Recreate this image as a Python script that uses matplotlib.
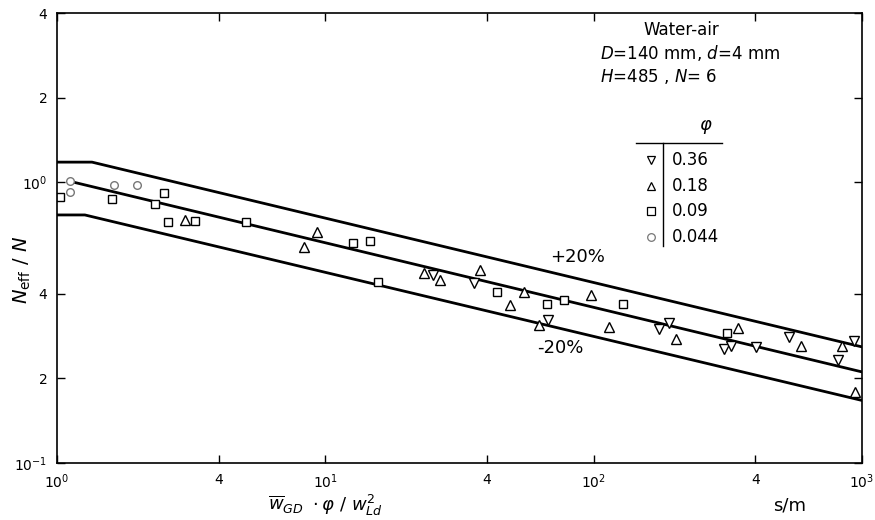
import matplotlib
matplotlib.use("Agg")
import matplotlib.pyplot as plt
from matplotlib.ticker import FixedLocator, FixedFormatter, NullLocator
from matplotlib.lines import Line2D

# ---- data ----
circ_x = [1.118, 1.118, 1.632, 1.988]
circ_y = [1.008, 0.921, 0.976, 0.976]

sq_x = [1.026, 1.604, 2.507, 2.321, 2.596, 3.273, 5.073, 12.72, 14.72, 15.77,
        43.5, 66.8, 77.3, 128.3, 313.6]
sq_y = [0.884, 0.870, 0.914, 0.835, 0.721, 0.727, 0.721, 0.607, 0.617, 0.440,
        0.406, 0.368, 0.380, 0.368, 0.290]

up_x = [3.003, 9.336, 8.35, 23.41, 26.86, 37.55, 54.8, 48.6, 62.3, 97.4,
        113.8, 202.3, 344.5, 592.0, 841.9, 941.8]
up_y = [0.732, 0.664, 0.587, 0.474, 0.448, 0.486, 0.406, 0.365, 0.310, 0.396,
        0.305, 0.276, 0.302, 0.261, 0.261, 0.179]

dn_x = [25.29, 35.66, 67.35, 174.8, 190.5, 305.5, 324.6, 402.2, 534.0, 813.6, 933.6]
dn_y = [0.467, 0.437, 0.323, 0.300, 0.315, 0.254, 0.261, 0.259, 0.281, 0.232, 0.272]

center_x = [1.15, 1000]
center_y = [1.0, 0.211]
upper_x = [1.0, 1.35, 1000]
upper_y = [1.178, 1.178, 0.259]
lower_x = [1.0, 1.27, 1000]
lower_y = [0.764, 0.764, 0.167]

x_ticks = [1, 4, 10, 40, 100, 400, 1000]
x_ticklabels = [r'$10^0$', '4', r'$10^1$', '4', r'$10^2$', '4', r'$10^3$']
y_ticks = [0.1, 0.2, 0.4, 1, 2, 4]
y_ticklabels = [r'$10^{-1}$', '2', '4', r'$10^0$', '2', '4']

phi_labels = ['0.36', '0.18', '0.09', '0.044']

# ---- figure ----
W, H = 875, 520
fig = plt.figure(figsize=(W / 100, H / 100), dpi=100)
ax = fig.add_axes([57 / W, 1 - 463 / H, (862 - 57) / W, (463 - 13) / H])
ax.set_xscale('log')
ax.set_yscale('log')
ax.set_xlim(1, 1000)
ax.set_ylim(0.1, 4)

line_kw = dict(color='black', lw=2.0, solid_capstyle='round')
ax.plot(center_x, center_y, **line_kw)
ax.plot(upper_x, upper_y, **line_kw)
ax.plot(lower_x, lower_y, **line_kw)

mk = dict(ls='none', mfc='white', mec='black', mew=1.0)
ax.plot(dn_x, dn_y, marker='v', ms=7, **mk)
ax.plot(up_x, up_y, marker='^', ms=7, **mk)
ax.plot(sq_x, sq_y, marker='s', ms=6, **mk)
ax.plot(circ_x, circ_y, marker='o', ls='none', ms=5.5, mfc='white', mec='#777777', mew=1.0)

ax.xaxis.set_major_locator(FixedLocator(x_ticks))
ax.xaxis.set_major_formatter(FixedFormatter(x_ticklabels))
ax.xaxis.set_minor_locator(NullLocator())
ax.yaxis.set_major_locator(FixedLocator(y_ticks))
ax.yaxis.set_major_formatter(FixedFormatter(y_ticklabels))
ax.yaxis.set_minor_locator(NullLocator())
ax.tick_params(which='both', direction='in', length=6, width=1.0,
               top=True, right=True, labelsize=10, pad=7)
for s in ax.spines.values():
    s.set_linewidth(1.2)

fig.text(22 / W, 1 - 270 / H, r'$N_{\rm eff}\ /\ N$', fontsize=14,
         rotation=90, ha='center', va='center')
fig.text(325 / W, 1 - 505 / H, r'$\overline{w}_{GD}\ \cdot\varphi\ /\ w^2_{Ld}$',
         fontsize=13, ha='center', va='center')
fig.text(790 / W, 1 - 505 / H, 's/m', fontsize=13, ha='center', va='center')

# annotations
fig.text(643 / W, 1 - 30 / H, 'Water-air', fontsize=12, ha='left', va='center')
fig.text(600 / W, 1 - 53 / H, r'$D$=140 mm, $d$=4 mm', fontsize=12, ha='left', va='center')
fig.text(600 / W, 1 - 76 / H, r'$H$=485 , $N$= 6', fontsize=12, ha='left', va='center')

fig.text(578 / W, 1 - 257 / H, '+20%', fontsize=13, ha='center', va='center')
fig.text(560 / W, 1 - 348 / H, '-20%', fontsize=13, ha='center', va='center')

# legend table
fig.text(706 / W, 1 - 127 / H, r'$\varphi$', fontsize=13, ha='center', va='center')
fig.add_artist(Line2D([636 / W, 722 / W], [1 - 143 / H, 1 - 143 / H], color='black', lw=1.0))
fig.add_artist(Line2D([663 / W, 663 / W], [1 - 143 / H, 1 - 246 / H], color='black', lw=1.0))
leg_markers = [('v', 'black'), ('^', 'black'), ('s', 'black'), ('o', '#777777')]
row_y = [160, 186, 211, 237]
for (m, ec), lab, ry in zip(leg_markers, phi_labels, row_y):
    fig.add_artist(Line2D([651 / W], [1 - ry / H], marker=m, ms=5.5, mfc='white',
                          mec=ec, mew=0.9, ls='none'))
    fig.text(672 / W, 1 - ry / H, lab, fontsize=12, ha='left', va='center')

fig.savefig('out.png', dpi=100)
